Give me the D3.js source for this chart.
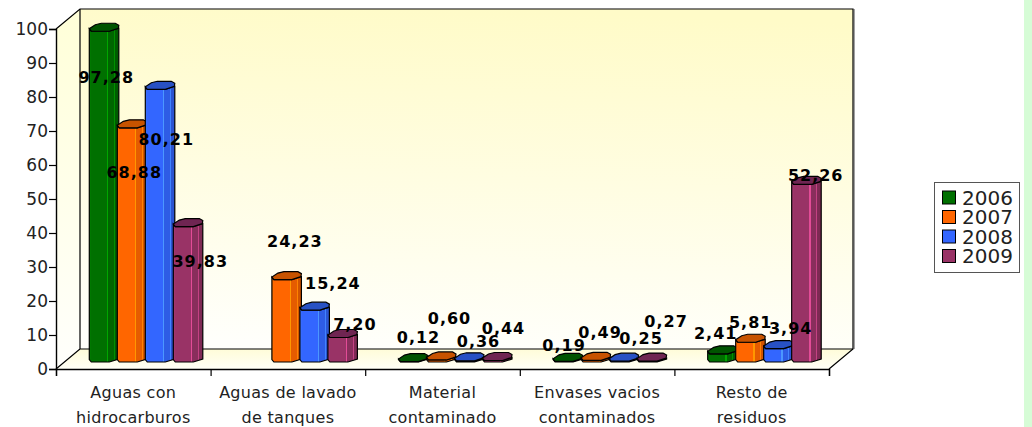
<!DOCTYPE html>
<html>
<head>
<meta charset="utf-8">
<script src="https://cdn.jsdelivr.net/npm/d3@7"></script>
<style>
  html, body { margin: 0; padding: 0; background: #fff; overflow: hidden; }
  text { font-family: "DejaVu Sans", sans-serif; }
</style>
</head>
<body>
<svg id="chart" width="1032" height="427"></svg>
<script>
const categories = [
  ['Aguas con', 'hidrocarburos'],
  ['Aguas de lavado', 'de tanques'],
  ['Material', 'contaminado'],
  ['Envases vacios', 'contaminados'],
  ['Resto de', 'residuos']
];
const years = ['2006', '2007', '2008', '2009'];
const values2006 = [97.28, null, 0.12, 0.19, 2.41];
const values2007 = [68.88, 24.23, 0.60, 0.49, 5.81];
const values2008 = [80.21, 15.24, 0.36, 0.25, 3.94];
const values2009 = [39.83, 7.20, 0.44, 0.27, 52.26];
const yTicks = [0, 10, 20, 30, 40, 50, 60, 70, 80, 90, 100];

const allValues = [values2006, values2007, values2008, values2009];
const colors = ['#007000', '#ff6600', '#3366ff', '#993366'];
const dark = ['#005400', '#c75300', '#2851c4', '#6f2552'];

// the labels sit oddly in the original, nudged by hand from the top of each bar
const labelNudge = [
  [[3, 46], null, [6, -24], [-3, -16], [-6, -21]],
  [[3, 44], [9, -38], [9, -42], [5, -28], [1, -20]],
  [[7, 50], [19, -27], [10, -20], [18, -23], [13, -20]],
  [[13, 35], [13, -13], [7, -32], [15, -40], [10, -9]]
];

const svg = d3.select('#chart');
const defs = svg.append('defs');

// walls fade from yellow at the top to almost white
const wall = defs.append('linearGradient').attr('id', 'wall')
  .attr('x1', 0.55).attr('y1', 0).attr('x2', 0.45).attr('y2', 1);
wall.append('stop').attr('offset', '0%').attr('stop-color', '#fffbc8');
wall.append('stop').attr('offset', '100%').attr('stop-color', '#fffffb');

const side = defs.append('linearGradient').attr('id', 'side')
  .attr('x1', 0).attr('y1', 0).attr('x2', 0).attr('y2', 1);
side.append('stop').attr('offset', '0%').attr('stop-color', '#ffffd8');
side.append('stop').attr('offset', '100%').attr('stop-color', '#fffffc');

const floor = defs.append('linearGradient').attr('id', 'floor')
  .attr('x1', 0).attr('y1', 0).attr('x2', 0).attr('y2', 1);
floor.append('stop').attr('offset', '0%').attr('stop-color', '#fffcd8');
floor.append('stop').attr('offset', '100%').attr('stop-color', '#fffff6');

// facets of the bar: a light stripe and a darker right side
colors.forEach(function(c, i) {
  const g = defs.append('linearGradient').attr('id', 'bar' + i)
    .attr('x1', 0).attr('y1', 0).attr('x2', 1).attr('y2', 0);
  const stops = [
    [0, d3.color(c).brighter(0.35)], [0.08, c], [0.6, c],
    [0.6, d3.color(c).brighter(1.1)], [0.64, d3.color(c).brighter(1.1)],
    [0.64, d3.color(c).darker(0.3)], [0.84, d3.color(c).darker(0.3)],
    [0.84, d3.color(c).brighter(0.7)], [0.87, d3.color(c).brighter(0.7)],
    [0.87, d3.color(c).darker(0.55)], [1, d3.color(c).darker(0.55)]
  ];
  stops.forEach(function(s) {
    g.append('stop').attr('offset', s[0]).attr('stop-color', s[1]);
  });
});

const left = 56, right = 829, baseY = 369, topY = 29;
const depthX = 24, depthY = 20;

const x = d3.scaleBand().domain(d3.range(categories.length)).range([left, right]);
const barW = 28;
const xSeries = d3.scaleBand().domain(d3.range(years.length))
  .range([0, barW * years.length]);
const y = d3.scaleLinear().domain([0, 100]).range([baseY, topY]);

// back wall, left wall, floor
svg.append('polygon').attr('fill', 'url(#wall)')
  .attr('points', [[left + depthX, topY - depthY], [right + depthX, topY - depthY],
    [right + depthX, baseY - depthY], [left + depthX, baseY - depthY]].join(' '));
svg.append('polygon').attr('fill', 'url(#side)')
  .attr('points', [[left, topY], [left + depthX, topY - depthY],
    [left + depthX, baseY - depthY], [left, baseY]].join(' '));
svg.append('polygon').attr('fill', 'url(#floor)')
  .attr('points', [[left, baseY], [left + depthX, baseY - depthY],
    [right + depthX, baseY - depthY], [right, baseY]].join(' '));

svg.append('path').attr('fill', 'none').attr('stroke', '#000').attr('stroke-width', 1.2)
  .attr('d', 'M' + left + ',' + topY + 'L' + (left + depthX) + ',' + (topY - depthY)
    + 'H' + (right + depthX) + 'V' + (baseY - depthY) + 'L' + right + ',' + baseY);
svg.append('path').attr('fill', 'none').attr('stroke', '#000').attr('stroke-width', 1.2)
  .attr('d', 'M' + left + ',' + baseY + 'L' + (left + depthX) + ',' + (baseY - depthY)
    + 'V' + (topY - depthY) + 'M' + (left + depthX) + ',' + (baseY - depthY)
    + 'H' + (right + depthX));
svg.append('line').attr('stroke', '#444').attr('stroke-width', 1)
  .attr('x1', right + depthX + 1).attr('x2', right + depthX + 1)
  .attr('y1', topY - depthY).attr('y2', baseY - depthY);

// axes
const yAxis = svg.append('g').attr('transform', 'translate(' + left + ',0)')
  .call(d3.axisLeft(y).tickValues(yTicks).tickSize(7).tickPadding(1));
yAxis.selectAll('text').attr('font-size', 17).attr('fill', '#222')
  .attr('font-family', '"DejaVu Sans", sans-serif');

const xEdge = d3.scaleLinear().domain([0, categories.length]).range([left, right]);
const xAxis = svg.append('g').attr('transform', 'translate(0,' + baseY + ')')
  .call(d3.axisBottom(xEdge).ticks(categories.length).tickSize(7).tickFormat(''));
svg.selectAll('.domain').attr('stroke-width', 1.4);
svg.selectAll('.tick line').attr('stroke-width', 1.2);

svg.append('g').selectAll('text').data(categories).enter().append('text')
  .attr('text-anchor', 'middle')
  .attr('font-size', 16)
  .attr('letter-spacing', 0.3)
  .attr('fill', '#222')
  .each(function(d, i) {
    d3.select(this).selectAll('tspan').data(d).enter().append('tspan')
      .attr('x', x(i) + x.bandwidth() / 2)
      .attr('y', function(t, j) { return 398 + j * 24.5; })
      .text(function(t) { return t; });
  });

// bar outline relative to its front-left corner at the base of the cap
function capPath(bx, by) {
  const pts = [[0, -2.5], [2, 0], [20, 0], [29, -3], [29.5, -6], [26, -8], [12, -8], [6, -6.5]];
  return 'M' + pts.map(function(p) { return [bx + p[0], by + p[1]]; }).join('L') + 'Z';
}
function bodyPath(bx, by0, by1) {
  return 'M' + [[bx, by0 - 2.5], [bx, by1 - 2.5], [bx + 2, by1], [bx + 20, by1],
    [bx + 29.5, by1 - 3], [bx + 29.5, by0 - 3], [bx + 20, by0], [bx + 2, by0]].join('L') + 'Z';
}

const groupW = barW * years.length;
const barBase = y(0) - 7;
const barShift = 12;

const bars = svg.append('g');
allValues.forEach(function(vals, s) {
  const g = bars.append('g');
  const rows = vals.map(function(v, k) { return { v: v, k: k }; })
    .filter(function(d) { return d.v !== null; });
  function barX(d) {
    return x(d.k) + (x.bandwidth() - groupW) / 2 + barShift + xSeries(s);
  }
  function barTop(d) {
    return barBase - (y(0) - y(d.v));
  }
  g.selectAll('.body').data(rows).enter().append('path')
    .attr('class', 'body')
    .attr('d', function(d) { return bodyPath(barX(d), barTop(d), barBase); })
    .attr('fill', 'url(#bar' + s + ')')
    .attr('stroke', '#000').attr('stroke-width', 1.2);
  g.selectAll('.cap').data(rows).enter().append('path')
    .attr('class', 'cap')
    .attr('d', function(d) { return capPath(barX(d), barTop(d)); })
    .attr('fill', dark[s])
    .attr('stroke', '#000').attr('stroke-width', 1.2);
});

// value labels go on top of all the bars
allValues.forEach(function(vals, s) {
  const rows = vals.map(function(v, k) { return { v: v, k: k }; })
    .filter(function(d) { return d.v !== null; });
  svg.append('g').selectAll('text').data(rows).enter().append('text')
    .attr('x', function(d) {
      return x(d.k) + (x.bandwidth() - groupW) / 2 + barShift + xSeries(s) + barW / 2
        + labelNudge[s][d.k][0];
    })
    .attr('y', function(d) {
      return barBase - (y(0) - y(d.v)) + labelNudge[s][d.k][1];
    })
    .attr('dy', '0.36em')
    .attr('text-anchor', 'middle')
    .attr('font-size', 16)
    .attr('font-weight', 'bold')
    .attr('letter-spacing', 1)
    .attr('fill', '#000')
    .text(function(d) { return d.v.toFixed(2).replace('.', ','); });
});

// legend
const legend = svg.append('g');
legend.append('rect').attr('x', 934.5).attr('y', 182.5).attr('width', 85).attr('height', 90)
  .attr('fill', '#fff').attr('stroke', '#555').attr('stroke-width', 1);
const legendY = d3.scalePoint().domain(years).range([197.5, 256]);
years.forEach(function(yr, i) {
  legend.append('rect').attr('x', 942.5).attr('y', legendY(yr) - 6.5)
    .attr('width', 13).attr('height', 13)
    .attr('fill', colors[i]).attr('stroke', '#000').attr('stroke-width', 1);
  legend.append('text').attr('x', 962).attr('y', legendY(yr)).attr('dy', '0.36em')
    .attr('font-size', 20).attr('fill', '#222').text(yr);
});

// green strip on the right edge of the page
svg.append('rect').attr('x', 1024).attr('y', 0).attr('width', 8).attr('height', 427)
  .attr('fill', '#d6fcd6');
</script>
</body>
</html>
